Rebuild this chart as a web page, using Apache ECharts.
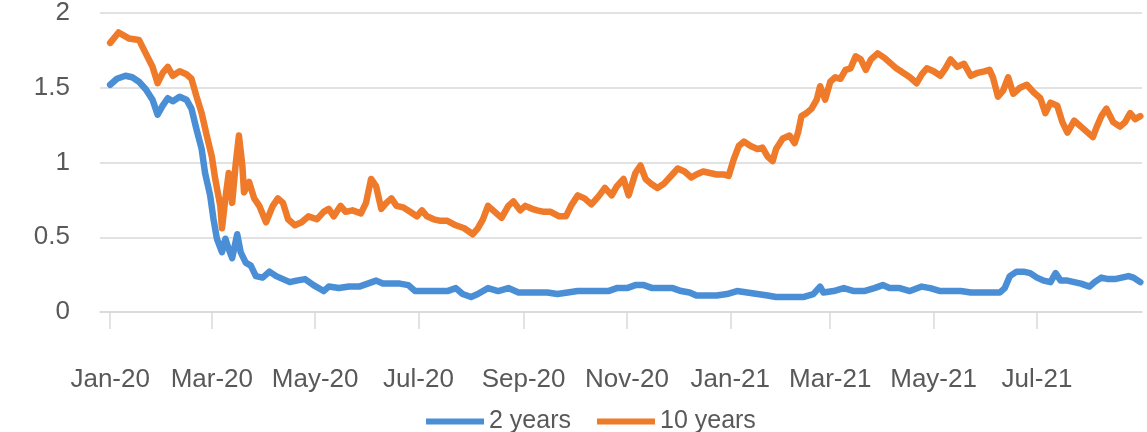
<!DOCTYPE html>
<html>
<head>
<meta charset="utf-8">
<script src="https://cdn.jsdelivr.net/npm/echarts@6/dist/echarts.min.js"></script>
<style>
html,body{margin:0;padding:0;background:#fff;}
#chart{width:1147px;height:432px;}
</style>
</head>
<body>
<div id="chart"></div>
<script>
// ---- data ----
const seriesNames = ['2 years', '10 years'];

const twoYearDates = ['2020-01-01','2020-01-05','2020-01-10','2020-01-14','2020-01-18','2020-01-22','2020-01-26','2020-01-29','2020-02-01','2020-02-04','2020-02-07','2020-02-11','2020-02-15','2020-02-18','2020-02-21','2020-02-24','2020-02-26','2020-02-29','2020-03-02','2020-03-04','2020-03-07','2020-03-09','2020-03-11','2020-03-13','2020-03-16','2020-03-18','2020-03-21','2020-03-24','2020-03-27','2020-03-31','2020-04-04','2020-04-08','2020-04-12','2020-04-16','2020-04-20','2020-04-25','2020-04-30','2020-05-06','2020-05-09','2020-05-15','2020-05-21','2020-05-27','2020-06-01','2020-06-06','2020-06-10','2020-06-15','2020-06-20','2020-06-25','2020-06-29','2020-07-05','2020-07-12','2020-07-18','2020-07-23','2020-07-27','2020-08-01','2020-08-05','2020-08-11','2020-08-17','2020-08-23','2020-08-29','2020-09-04','2020-09-09','2020-09-15','2020-09-21','2020-09-27','2020-10-03','2020-10-09','2020-10-15','2020-10-21','2020-10-26','2020-11-01','2020-11-06','2020-11-11','2020-11-16','2020-11-22','2020-11-28','2020-12-03','2020-12-08','2020-12-12','2020-12-18','2020-12-24','2020-12-30','2021-01-05','2021-01-11','2021-01-17','2021-01-23','2021-01-28','2021-02-03','2021-02-09','2021-02-13','2021-02-19','2021-02-23','2021-02-25','2021-03-03','2021-03-09','2021-03-15','2021-03-21','2021-03-27','2021-04-01','2021-04-05','2021-04-11','2021-04-17','2021-04-24','2021-04-29','2021-05-05','2021-05-11','2021-05-17','2021-05-23','2021-05-29','2021-06-04','2021-06-09','2021-06-12','2021-06-15','2021-06-19','2021-06-23','2021-06-27','2021-07-01','2021-07-05','2021-07-09','2021-07-12','2021-07-15','2021-07-19','2021-07-23','2021-07-27','2021-08-01','2021-08-04','2021-08-08','2021-08-12','2021-08-16','2021-08-20','2021-08-24','2021-08-27','2021-08-31'];
const twoYear = [1.52,1.56,1.58,1.57,1.54,1.49,1.42,1.32,1.38,1.43,1.41,1.44,1.42,1.36,1.22,1.09,0.93,0.78,0.62,0.49,0.40,0.49,0.42,0.36,0.52,0.40,0.33,0.31,0.24,0.23,0.27,0.24,0.22,0.20,0.21,0.22,0.18,0.14,0.17,0.16,0.17,0.17,0.19,0.21,0.19,0.19,0.19,0.18,0.14,0.14,0.14,0.14,0.16,0.12,0.10,0.12,0.16,0.14,0.16,0.13,0.13,0.13,0.13,0.12,0.13,0.14,0.14,0.14,0.14,0.16,0.16,0.18,0.18,0.16,0.16,0.16,0.14,0.13,0.11,0.11,0.11,0.12,0.14,0.13,0.12,0.11,0.10,0.10,0.10,0.10,0.12,0.17,0.13,0.14,0.16,0.14,0.14,0.16,0.18,0.16,0.16,0.14,0.17,0.16,0.14,0.14,0.14,0.13,0.13,0.13,0.13,0.16,0.24,0.27,0.27,0.26,0.23,0.21,0.20,0.26,0.21,0.21,0.20,0.19,0.17,0.20,0.23,0.22,0.22,0.23,0.24,0.23,0.20];

const tenYearDates = ['2020-01-01','2020-01-06','2020-01-12','2020-01-18','2020-01-22','2020-01-26','2020-01-29','2020-02-01','2020-02-04','2020-02-07','2020-02-11','2020-02-15','2020-02-18','2020-02-21','2020-02-24','2020-02-27','2020-03-01','2020-03-03','2020-03-06','2020-03-07','2020-03-09','2020-03-11','2020-03-13','2020-03-15','2020-03-17','2020-03-19','2020-03-20','2020-03-23','2020-03-26','2020-03-29','2020-04-02','2020-04-06','2020-04-09','2020-04-12','2020-04-15','2020-04-19','2020-04-23','2020-04-27','2020-05-02','2020-05-06','2020-05-09','2020-05-12','2020-05-16','2020-05-19','2020-05-23','2020-05-28','2020-05-31','2020-06-03','2020-06-06','2020-06-09','2020-06-12','2020-06-15','2020-06-18','2020-06-22','2020-06-26','2020-06-30','2020-07-03','2020-07-06','2020-07-10','2020-07-14','2020-07-18','2020-07-23','2020-07-28','2020-08-02','2020-08-05','2020-08-08','2020-08-11','2020-08-15','2020-08-19','2020-08-23','2020-08-26','2020-08-30','2020-09-02','2020-09-06','2020-09-09','2020-09-13','2020-09-17','2020-09-22','2020-09-26','2020-09-29','2020-10-03','2020-10-07','2020-10-11','2020-10-15','2020-10-19','2020-10-23','2020-10-26','2020-10-30','2020-11-02','2020-11-06','2020-11-09','2020-11-12','2020-11-15','2020-11-19','2020-11-23','2020-11-27','2020-12-01','2020-12-05','2020-12-09','2020-12-12','2020-12-16','2020-12-20','2020-12-24','2020-12-28','2020-12-31','2021-01-03','2021-01-06','2021-01-09','2021-01-13','2021-01-17','2021-01-20','2021-01-23','2021-01-26','2021-01-28','2021-02-01','2021-02-05','2021-02-08','2021-02-10','2021-02-12','2021-02-15','2021-02-18','2021-02-21','2021-02-23','2021-02-26','2021-03-01','2021-03-04','2021-03-07','2021-03-10','2021-03-13','2021-03-16','2021-03-19','2021-03-22','2021-03-25','2021-03-29','2021-04-02','2021-04-05','2021-04-09','2021-04-13','2021-04-17','2021-04-21','2021-04-24','2021-04-27','2021-05-01','2021-05-05','2021-05-08','2021-05-11','2021-05-15','2021-05-19','2021-05-23','2021-05-27','2021-05-31','2021-06-03','2021-06-05','2021-06-08','2021-06-11','2021-06-14','2021-06-17','2021-06-21','2021-06-25','2021-06-29','2021-07-03','2021-07-06','2021-07-09','2021-07-13','2021-07-16','2021-07-19','2021-07-23','2021-07-27','2021-07-31','2021-08-03','2021-08-05','2021-08-08','2021-08-11','2021-08-15','2021-08-19','2021-08-22','2021-08-25','2021-08-28','2021-08-31'];
const tenYear = [1.80,1.87,1.83,1.82,1.73,1.64,1.53,1.60,1.64,1.58,1.61,1.59,1.56,1.44,1.33,1.18,1.04,0.89,0.71,0.56,0.76,0.93,0.73,0.98,1.18,0.98,0.80,0.87,0.76,0.71,0.60,0.71,0.76,0.73,0.62,0.58,0.60,0.64,0.62,0.67,0.69,0.64,0.71,0.67,0.68,0.66,0.73,0.89,0.84,0.69,0.73,0.76,0.71,0.70,0.67,0.64,0.68,0.64,0.62,0.61,0.61,0.58,0.56,0.52,0.56,0.62,0.71,0.67,0.63,0.71,0.74,0.68,0.71,0.69,0.68,0.67,0.67,0.64,0.64,0.71,0.78,0.76,0.72,0.77,0.83,0.78,0.84,0.89,0.78,0.93,0.98,0.89,0.86,0.83,0.86,0.91,0.96,0.94,0.90,0.92,0.94,0.93,0.92,0.92,0.91,1.02,1.11,1.14,1.11,1.09,1.10,1.04,1.01,1.09,1.16,1.18,1.13,1.20,1.31,1.33,1.36,1.42,1.51,1.42,1.54,1.57,1.56,1.62,1.63,1.71,1.69,1.62,1.69,1.73,1.70,1.67,1.63,1.60,1.57,1.53,1.59,1.63,1.61,1.58,1.63,1.69,1.64,1.66,1.58,1.60,1.61,1.62,1.57,1.44,1.48,1.57,1.46,1.50,1.52,1.47,1.43,1.33,1.40,1.38,1.27,1.20,1.28,1.24,1.20,1.17,1.23,1.31,1.36,1.27,1.24,1.27,1.33,1.29,1.31];

const tickDates = ['2020-01-01','2020-03-01','2020-05-01','2020-07-01','2020-09-01','2020-11-01','2021-01-01','2021-03-01','2021-05-01','2021-07-01'];
const tickLabels = ['Jan-20','Mar-20','May-20','Jul-20','Sep-20','Nov-20','Jan-21','Mar-21','May-21','Jul-21'];
const yTicks = [0, 0.5, 1, 1.5, 2];
const axisStart = '2019-12-26';
const axisEnd = '2021-09-01';

// ---- chart ----
function ts(s){ const p = s.split('-'); return Date.UTC(+p[0], +p[1]-1, +p[2]); }
const tickTs = tickDates.map(ts);
function zip(d, v){ return d.map((x,i)=>[ts(x), v[i]]); }

const FONT = "'Liberation Sans', Arial, sans-serif";
const GRID = '#d9d9d9';
const TXT = '#595959';

const chart = echarts.init(document.getElementById('chart'), null, {renderer:'canvas'});
chart.setOption({
  animation: false,
  backgroundColor: '#ffffff',
  textStyle: {fontFamily: FONT},
  grid: {left: 100, right: 5, top: 12, bottom: 120, containLabel: false},
  xAxis: {
    type: 'value',
    min: ts(axisStart),
    max: ts(axisEnd),
    axisLine: {show: true, onZero: false, lineStyle: {color: GRID, width: 1.5}},
    axisTick: {show: true, length: 17, lineStyle: {color: GRID, width: 1.5}, customValues: tickTs},
    axisLabel: {
      customValues: tickTs,
      margin: 55,
      fontSize: 26,
      color: TXT,
      fontFamily: FONT,
      formatter: function(v){ const i = tickTs.indexOf(v); return i >= 0 ? tickLabels[i] : ''; }
    },
    splitLine: {show: false}
  },
  yAxis: {
    type: 'value',
    min: yTicks[0],
    max: yTicks[yTicks.length-1],
    interval: 0.5,
    axisLine: {show: false},
    axisTick: {show: false},
    axisLabel: {margin: 30, fontSize: 26, color: TXT, fontFamily: FONT, formatter: v => String(v)},
    splitLine: {lineStyle: {color: GRID, width: 1.5}}
  },
  legend: {
    top: 404,
    left: 421,
    itemWidth: 58,
    itemHeight: 6,
    itemGap: 26,
    icon: 'rect',
    textStyle: {fontSize: 25, color: TXT, fontFamily: FONT},
    data: seriesNames
  },
  series: [
    {name: seriesNames[0], type: 'line', data: zip(twoYearDates, twoYear), showSymbol: false, symbol: 'none',
     lineStyle: {color: '#4A8FD6', width: 6.5, join: 'round', cap: 'round'}, itemStyle: {color: '#4A8FD6'}, z: 2},
    {name: seriesNames[1], type: 'line', data: zip(tenYearDates, tenYear), showSymbol: false, symbol: 'none',
     lineStyle: {color: '#EE7A2A', width: 6.5, join: 'round', cap: 'round'}, itemStyle: {color: '#EE7A2A'}, z: 3}
  ]
});
</script>
</body>
</html>
